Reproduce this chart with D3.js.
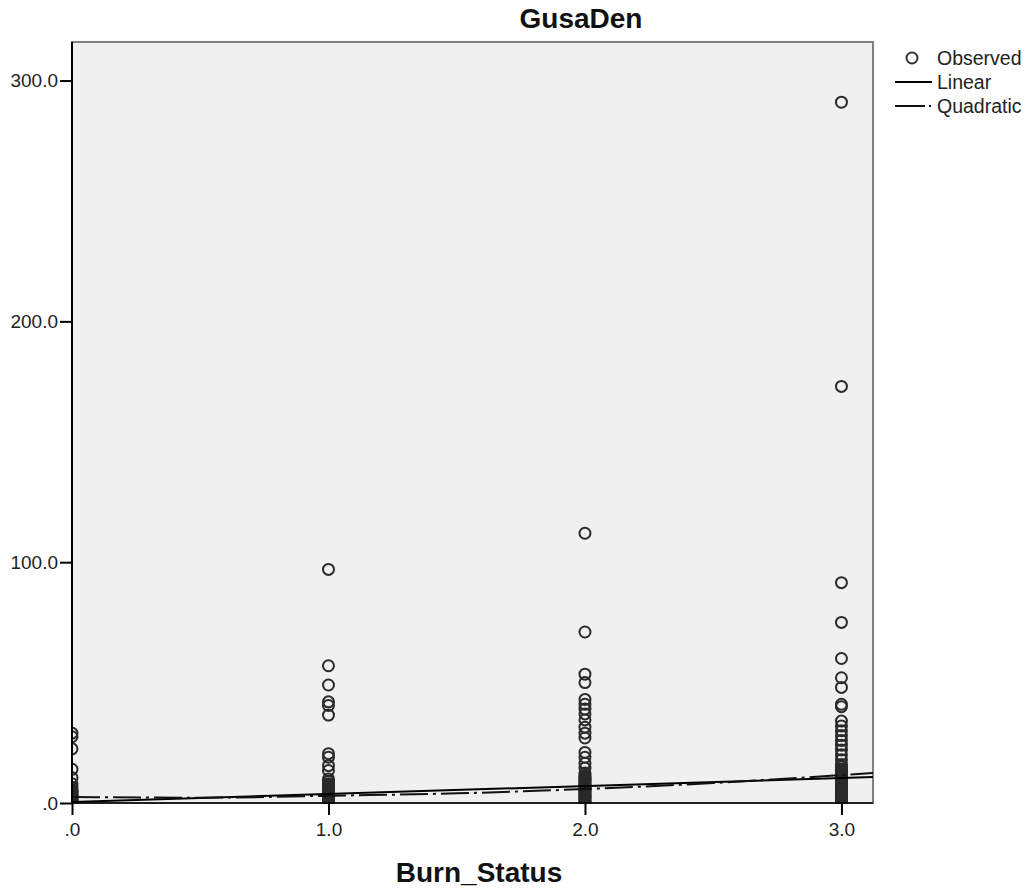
<!DOCTYPE html>
<html>
<head>
<meta charset="utf-8">
<script src="https://cdn.jsdelivr.net/npm/d3@7"></script>
<style>
  html, body { margin: 0; padding: 0; background: #ffffff; }
  svg { display: block; font-family: Arial, "Liberation Sans", Helvetica, sans-serif; }
</style>
</head>
<body>
<svg id="chart" width="1033" height="894"></svg>
<script>
// ---- Data ----
const chartTitle = "GusaDen";
const xLabel = "Burn_Status";
const xTickValues = [0, 1, 2, 3];
const xTickLabels = [".0", "1.0", "2.0", "3.0"];
const yTickValues = [0, 100, 200, 300];
const yTickLabels = [".0", "100.0", "200.0", "300.0"];

// Observed GusaDen values per Burn_Status
const burn0 = [29, 27.5, 22.5, 14, 10.5, 8, 6.5, 5.5, 5, 4.5, 4, 3.5, 3, 2.5, 2, 1.5, 1, 0.6, 0.3, 0];
const burn1 = [97, 57, 49, 42, 40.5, 36.5, 20.5, 19, 15.5, 13.5, 10, 9, 8, 7.5, 7, 6.5, 6, 5.5, 5, 4.5, 4, 3.5, 3, 2.5, 2, 1.5, 1, 0.5, 0];
const burn2 = [112, 71, 53.5, 50, 43, 41, 39, 37, 34.5, 31.5, 29, 27, 21, 19, 16.5, 14.5, 12.5, 11.5, 11, 10.5, 10, 9.5, 9, 8.5, 8, 7.5, 7, 6.5, 6, 5.5, 5, 4.5, 4, 3.5, 3, 2.5, 2, 1.5, 1, 0.5, 0];
const burn3 = [291, 173, 91.5, 75, 60, 52, 48, 41, 40, 34, 32, 30, 28, 26, 24, 22, 20, 18, 16, 15, 14, 13.5, 13, 12.5, 12, 11.5, 11, 10.5, 10, 9.5, 9, 8.5, 8, 7.5, 7, 6.5, 6, 5.5, 5, 4.5, 4, 3.5, 3, 2.5, 2, 1.5, 1, 0.5, 0];

// Fitted lines
const linearX = [0, 3.123];
const linearY = [0.4, 10.8];
const quadX = [0, 0.5, 1, 1.5, 2, 2.5, 3, 3.123];
const quadY = [2.5, 2.2, 3.0, 4.0, 5.8, 8.3, 11.6, 12.5];

const legendLabels = ["Observed", "Linear", "Quadratic"];

// ---- Layout ----
const svg = d3.select("#chart");
const plot = { left: 72, top: 42, right: 873, bottom: 803 };

const x = d3.scaleLinear().domain([0, 3.123]).range([plot.left, plot.right]);
const y = d3.scaleLinear().domain([0, 316]).range([plot.bottom, plot.top]);

// background
svg.append("rect")
  .attr("x", plot.left).attr("y", plot.top)
  .attr("width", plot.right - plot.left).attr("height", plot.bottom - plot.top)
  .attr("fill", "#f0f0f0")
  .attr("stroke", "#808080").attr("stroke-width", 2);

// observed points
const groups = [[0, burn0], [1, burn1], [2, burn2], [3, burn3]];
const pts = [];
groups.forEach(([bx, vals]) => vals.forEach(v => pts.push({ bx, v })));

const clipId = "plotclip";
svg.append("clipPath").attr("id", clipId).append("rect")
  .attr("x", plot.left).attr("y", plot.top)
  .attr("width", plot.right - plot.left).attr("height", plot.bottom - plot.top + 1);

const pg = svg.append("g").attr("clip-path", `url(#${clipId})`);
pg.selectAll("circle").data(pts).join("circle")
  .attr("cx", d => x(d.bx)).attr("cy", d => y(d.v))
  .attr("r", 5.5)
  .attr("fill", "none")
  .attr("stroke", "#2a2a2a")
  .attr("stroke-width", 2);

// fit lines
const lineGen = d3.line().x(d => x(d[0])).y(d => y(d[1]));
const lineGenCurve = d3.line().x(d => x(d[0])).y(d => y(d[1])).curve(d3.curveMonotoneX);

pg.append("path")
  .datum(linearX.map((v, i) => [v, linearY[i]]))
  .attr("d", lineGen)
  .attr("fill", "none").attr("stroke", "#000").attr("stroke-width", 2);

pg.append("path")
  .datum(quadX.map((v, i) => [v, quadY[i]]))
  .attr("d", lineGenCurve)
  .attr("fill", "none").attr("stroke", "#111").attr("stroke-width", 2)
  .attr("stroke-dasharray", "28,5,3,5");

// axes
const yAxis = d3.axisLeft(y).tickValues(yTickValues)
  .tickFormat((d, i) => yTickLabels[i]).tickSize(12).tickPadding(2);
const gy = svg.append("g").attr("transform", `translate(${plot.left},0)`).call(yAxis);
gy.select(".domain").attr("stroke", "#000").attr("stroke-width", 2)
  .attr("d", `M0,${plot.bottom}V${plot.top}`);
gy.selectAll(".tick line").attr("stroke", "#000").attr("stroke-width", 2);
gy.selectAll(".tick text").attr("font-size", 19).attr("fill", "#222")
  .style("font-family", "Arial, 'Liberation Sans', sans-serif");

const xAxis = d3.axisBottom(x).tickValues(xTickValues)
  .tickFormat((d, i) => xTickLabels[i]).tickSize(12).tickPadding(8);
const gx = svg.append("g").attr("transform", `translate(0,${plot.bottom})`).call(xAxis);
gx.select(".domain").attr("stroke", "#000").attr("stroke-width", 1.5)
  .attr("d", `M${plot.left},0H${plot.right}`);
gx.selectAll(".tick line").attr("stroke", "#000").attr("stroke-width", 2);
gx.selectAll(".tick text").attr("font-size", 19).attr("fill", "#222")
  .style("font-family", "Arial, 'Liberation Sans', sans-serif");

// title
svg.append("text")
  .attr("x", 581).attr("y", 28)
  .attr("text-anchor", "middle")
  .attr("font-size", 28).attr("font-weight", "bold").attr("fill", "#111")
  .text(chartTitle);

// x label
svg.append("text")
  .attr("x", 479).attr("y", 882)
  .attr("text-anchor", "middle")
  .attr("font-size", 28).attr("font-weight", "bold").attr("fill", "#111")
  .text(xLabel);

// legend
const lg = svg.append("g");
lg.append("circle").attr("cx", 912).attr("cy", 58).attr("r", 5.5)
  .attr("fill", "none").attr("stroke", "#333").attr("stroke-width", 2);
lg.append("line").attr("x1", 895).attr("x2", 932).attr("y1", 82).attr("y2", 82)
  .attr("stroke", "#000").attr("stroke-width", 2);
lg.append("line").attr("x1", 895).attr("x2", 932).attr("y1", 106).attr("y2", 106)
  .attr("stroke", "#111").attr("stroke-width", 2).attr("stroke-dasharray", "30,4,2,10");
[58, 82, 106].forEach((cy, i) => {
  lg.append("text").attr("x", 937).attr("y", cy).attr("dy", "0.35em")
    .attr("font-size", 19.5).attr("fill", "#222").text(legendLabels[i]);
});
</script>
</body>
</html>
